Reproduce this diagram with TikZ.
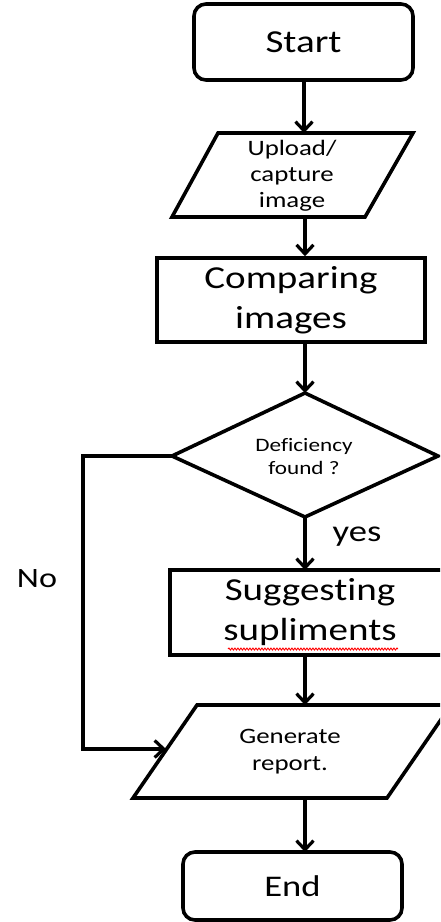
\documentclass[tikz,border=0pt]{standalone}
\usepackage{fontspec}
\setmainfont{Carlito}[FakeStretch=1.22, Ligatures=CommonOff]
\usetikzlibrary{arrows.meta,decorations.pathmorphing}
\tikzset{
  line/.style={line width=3.6pt, line join=miter},
  arr/.style={line width=3.4pt, -{Straight Barb[length=9pt,width=17pt,line width=3.2pt]}},
  box/.style={line, draw, rectangle, inner sep=0pt, align=center},
  term/.style={box, rounded corners=12pt},
  txt/.style={align=center, inner sep=0pt, text=black},
}
\begin{document}
\begin{tikzpicture}[x=1pt,y=-1pt]
\clip (0,0) rectangle (440,922);
\useasboundingbox (0,0) rectangle (440,922);
% Start
\node[term, minimum width=219pt, minimum height=76pt, font=\fontsize{32}{38}\selectfont] (start) at (303.5,42) {Start};
% Upload parallelogram
\coordinate (upNW) at (218,133);
\coordinate (upNE) at (413,133);
\coordinate (upSE) at (365,217);
\coordinate (upSW) at (172,217);
\draw[line] (upNW) -- (upNE) -- (upSE) -- (upSW) -- cycle;
\node[txt, font=\fontsize{22}{26}\selectfont] (upload) at (292,176) {Upload/\\capture\\image};
\coordinate (upTop) at (304,133);
\coordinate (upBot) at (305,217);
% Comparing
\node[box, minimum width=268pt, minimum height=84pt, font=\fontsize{32}{40}\selectfont] (cmp) at (291,300) {Comparing\\images};
% Diamond
\coordinate (dT) at (305,393);
\coordinate (dR) at (438,456);
\coordinate (dB) at (305,517);
\coordinate (dL) at (172,456);
\draw[line] (dT) -- (dR) -- (dB) -- (dL) -- cycle;
\node[txt, font=\fontsize{19}{23}\selectfont] (dec) at (304,457) {Deficiency\\found ?};
% Suggesting
\node[box, minimum width=280pt, minimum height=85pt, font=\fontsize{32}{40}\selectfont] (sug) at (310,612.5) {Suggesting\\supliments};
\coordinate (wavyA) at (228,649);
\coordinate (wavyB) at (398,649);
\draw[red, line width=0.9pt, decorate, decoration={snake, amplitude=1pt, segment length=3pt}] (wavyA) -- (wavyB);
% Generate parallelogram
\coordinate (gNW) at (197,705);
\coordinate (gNE) at (451,705);
\coordinate (gSE) at (387,798);
\coordinate (gSW) at (133,798);
\draw[line] (gNW) -- (gNE) -- (gSE) -- (gSW) -- cycle;
\node[txt, font=\fontsize{22}{27}\selectfont] (gen) at (290,752) {Generate\\report.};
\coordinate (gTop) at (305,705);
\coordinate (gBot) at (305,798);
\coordinate (gIn) at (166,749);
% End
\node[term, minimum width=219pt, minimum height=68pt, font=\fontsize{30}{36}\selectfont] (end) at (292.5,886) {End};
% labels
\node[txt, font=\fontsize{30}{34}\selectfont] (yes) at (357,537) {yes};
\node[txt, font=\fontsize{28}{32}\selectfont] (no) at (37,579) {No};
% connectors
\coordinate (c1) at (305,342);
\coordinate (c2) at (305,570);
\coordinate (c3) at (305,655);
\coordinate (c4) at (305,852);
\coordinate (lTop) at (83,456);
\coordinate (lBot) at (83,749);
\draw[arr] (start.south -| upTop) -- (upTop);
\draw[arr] (upBot) -- (upBot |- cmp.north);
\draw[arr] (c1) -- (dT);
\draw[arr] (dB) -- (c2);
\draw[arr] (c3) -- (gTop);
\draw[arr] (gBot) -- (c4);
\draw[arr, line join=miter] (dL) -- (lTop) -- (lBot) -- (gIn);
\end{tikzpicture}
\end{document}
